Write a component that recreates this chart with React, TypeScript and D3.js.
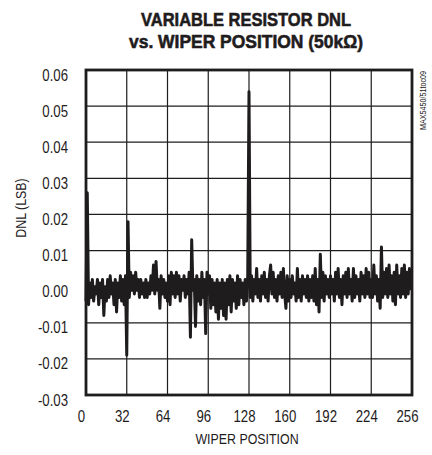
import React from "react";
import * as d3 from "d3";

const titleLines = ["VARIABLE RESISTOR DNL", "vs. WIPER POSITION (50k\u03A9)"];
const xLabel = "WIPER POSITION";
const yLabel = "DNL (LSB)";
const sideNote = "MAX5450/51toc09";

const xTicks = [0, 32, 64, 96, 128, 160, 192, 224, 256];
const yTicks = [-0.03, -0.02, -0.01, 0, 0.01, 0.02, 0.03, 0.04, 0.05, 0.06];
const yTickLabels = ["-0.03", "-0.02", "-0.01", "0.00", "0.01", "0.02", "0.03", "0.04", "0.05", "0.06"];

// DNL per wiper position 0..255
const dnl = [
  -0.004, 0.026, -0.005, 0.001, -0.003, 0.002, -0.004, 0.000, -0.002, 0.002, -0.005, 0.001, -0.003, 0.002, -0.008, 0.000,
  -0.004, 0.002, -0.003, 0.003, -0.002, 0.001, -0.005, 0.002, -0.007, 0.001, -0.003, 0.003, -0.004, 0.002, -0.005, 0.003,
  -0.019, 0.018, -0.003, 0.004, -0.001, 0.003, -0.002, 0.004, -0.001, 0.002, -0.003, 0.002, -0.002, 0.001, -0.003, 0.002,
  -0.003, 0.001, -0.002, 0.003, -0.001, 0.006, -0.002, 0.007, -0.001, 0.002, -0.006, 0.003, -0.002, 0.002, -0.003, 0.001,
  -0.004, 0.003, -0.005, 0.004, -0.002, 0.003, -0.003, 0.004, -0.002, 0.003, -0.004, 0.002, -0.001, 0.003, -0.003, 0.002,
  -0.002, 0.004, -0.014, 0.013, -0.001, 0.002, -0.011, 0.003, -0.004, 0.002, -0.005, 0.004, -0.003, 0.002, -0.013, 0.004,
  -0.002, 0.003, -0.006, 0.002, -0.005, 0.001, -0.007, 0.002, -0.009, 0.001, -0.006, 0.002, -0.008, 0.001, -0.009, 0.002,
  -0.005, 0.003, -0.007, 0.002, -0.004, 0.001, -0.006, 0.003, -0.005, 0.002, -0.003, 0.001, -0.005, 0.002, -0.004, 0.003,
  0.054, -0.003, 0.003, -0.004, 0.002, -0.002, 0.005, -0.003, 0.002, -0.004, 0.003, -0.002, 0.004, -0.003, 0.002, -0.004,
  0.003, 0.006, -0.002, 0.004, -0.003, 0.002, -0.004, 0.003, -0.002, 0.004, -0.003, 0.005, -0.002, -0.006, 0.003, -0.004,
  0.002, -0.003, 0.003, -0.002, 0.001, -0.004, 0.005, -0.003, 0.002, -0.004, 0.003, -0.002, 0.002, -0.003, 0.003, -0.004,
  0.002, -0.003, 0.003, -0.004, 0.005, -0.005, 0.002, -0.007, 0.009, -0.003, 0.004, -0.004, 0.003, -0.002, 0.002, -0.003,
  0.003, -0.002, 0.002, -0.004, 0.004, -0.002, 0.005, -0.003, 0.002, -0.005, 0.003, -0.002, 0.004, -0.003, 0.005, -0.002,
  0.002, -0.004, 0.005, -0.003, 0.003, -0.002, 0.002, -0.004, 0.004, -0.002, 0.003, -0.003, 0.005, -0.002, 0.004, -0.003,
  0.002, -0.003, 0.006, -0.002, 0.003, -0.004, 0.002, -0.006, 0.011, -0.003, 0.004, -0.002, 0.005, -0.003, 0.006, -0.002,
  0.003, -0.004, 0.004, -0.005, 0.006, -0.002, 0.003, -0.003, 0.005, -0.002, 0.006, -0.003, 0.004, -0.002, 0.005, -0.001,
];

const W = 432;
const H = 455;
const plot = { left: 86, right: 412, top: 70, bottom: 395 };
const FONT = "'Liberation Sans', Arial, sans-serif";
const ink = "#1f1c1d";

type TProps = {
  x: number;
  y: number;
  size: number;
  anchor?: "start" | "middle" | "end";
  weight?: string;
  rotate?: number;
  sx?: number;
  children: React.ReactNode;
};

function T({ x, y, size, anchor = "middle", weight = "normal", rotate = 0, sx = 0.8, children }: TProps) {
  return (
    <text
      transform={`translate(${x},${y}) rotate(${rotate}) scale(${sx},1)`}
      textAnchor={anchor}
      fontFamily={FONT}
      fontWeight={weight}
      fontSize={size}
      fill={ink}
    >
      {children}
    </text>
  );
}

export default function App() {
  const x = d3.scaleLinear().domain([0, 256]).range([plot.left, plot.right]);
  const y = d3.scaleLinear().domain([-0.03, 0.06]).range([plot.bottom, plot.top]);
  const line = d3
    .line<number>()
    .x((_, i) => x(i))
    .y((d) => y(d));

  return (
    <svg
      width={W}
      height={H}
      viewBox={`0 0 ${W} ${H}`}
      style={{ position: "absolute", left: 0, top: 0, background: "#fff" }}
    >
      <rect x={0} y={0} width={W} height={H} fill="#fff" />
      {/* title */}
      <text x={246} y={26} textAnchor="middle" fontFamily={FONT} fontWeight="bold" fontSize={19} fill={ink}
        stroke={ink} strokeWidth={0.6} textLength={210} lengthAdjust="spacingAndGlyphs">
        {titleLines[0]}
      </text>
      <text x={246} y={48} textAnchor="middle" fontFamily={FONT} fontWeight="bold" fontSize={19} fill={ink}
        stroke={ink} strokeWidth={0.6} textLength={234} lengthAdjust="spacingAndGlyphs">
        {titleLines[1]}
      </text>

      {/* grid */}
      {xTicks.slice(1, -1).map((t) => (
        <line key={"gx" + t} x1={x(t)} x2={x(t)} y1={plot.top} y2={plot.bottom} stroke={ink} strokeWidth={1.2} />
      ))}
      {yTicks.slice(1, -1).map((t) => (
        <line key={"gy" + t} x1={plot.left} x2={plot.right} y1={y(t)} y2={y(t)} stroke={ink} strokeWidth={1.2} />
      ))}

      {/* data */}
      <path d={line(dnl) || ""} fill="none" stroke={ink} strokeWidth={3} strokeLinejoin="round" />

      {/* frame */}
      <rect x={plot.left} y={plot.top} width={plot.right - plot.left} height={plot.bottom - plot.top}
        fill="none" stroke={ink} strokeWidth={2.8} />

      {/* y tick labels */}
      {yTicks.map((t, i) => (
        <T key={"yl" + t} x={68} y={y(t) + 10.5} size={16.5} anchor="end">
          {yTickLabels[i]}
        </T>
      ))}
      {/* x tick labels */}
      {xTicks.map((t) => (
        <T key={"xl" + t} x={x(t) - 4.5} y={421.5} size={16.5}>
          {String(t)}
        </T>
      ))}

      {/* axis titles */}
      <T x={247} y={444} size={15.5}>{xLabel}</T>
      <T x={26} y={208} size={15.5} rotate={-90}>{yLabel}</T>
      <T x={426} y={71} size={9} rotate={-90} anchor="end">{sideNote}</T>
    </svg>
  );
}
